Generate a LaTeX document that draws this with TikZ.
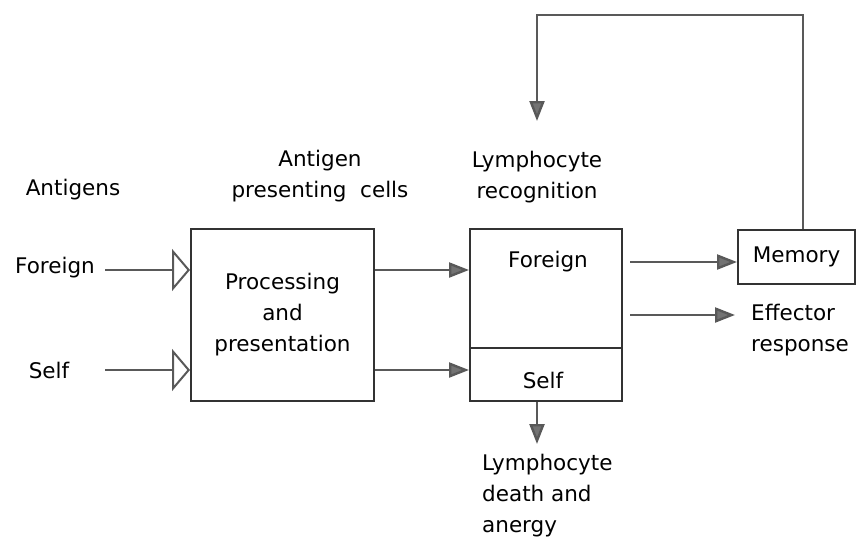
\documentclass[tikz,border=0pt]{standalone}
\usepackage{fontspec}
\setmainfont{DejaVu Sans}
\usetikzlibrary{arrows.meta, positioning}
\tikzset{
    stage/.style={rectangle, draw=black!80, line width=2pt, inner sep=0pt},
    lbl/.style={font=\fontsize{21.5}{31}\selectfont, align=center, inner sep=1pt},
    flow/.style={draw=black!65, line width=2.4pt, -{Triangle[length=20pt, width=15pt, fill=black!55]}},
    input/.style={draw=black!65, line width=2.4pt, -{Triangle[open, length=18pt, width=42pt, line width=2pt]}}
}
\begin{document}
\begin{tikzpicture}[x=1pt, y=-1pt]
    \useasboundingbox (0,0) rectangle (857,538);
    % Stage boxes
    \node[stage, minimum width=183pt, minimum height=172pt, lbl] (apc) at (282.5,315) {Processing\\and\\presentation};
    \node[stage, minimum width=152pt, minimum height=172pt] (lymph) at (546,315) {};
    \node[stage, minimum width=117pt, minimum height=54pt, lbl] (memory) at (796.5,256.5) {Memory};
    \draw[stage] (lymph.west |- 0,348) -- (lymph.east |- 0,348);

    % Labels
    \node[lbl] (antigens) at (73,190) {Antigens};
    \node[lbl] (forlab) at (55,268) {Foreign};
    \node[lbl] (selflab) at (49,370) {Self};
    \node[lbl] (apclab) at (320,176) {Antigen\\presenting\ \ cells};
    \node[lbl] (reclab) at (537,177) {Lymphocyte\\recognition};
    \node[lbl] (lforeign) at (548,262) {Foreign};
    \node[lbl] (lself) at (543,380) {Self};
    \node[lbl, align=left, anchor=west] (effector) at (750,330) {Effector\\response};
    \node[lbl, align=left, anchor=north west] (death) at (481,453) {Lymphocyte\\death and\\anergy};

    % Inputs
    \coordinate (forstart) at (105,270);
    \coordinate (selfstart) at (105,370);
    \draw[input] (forstart) -- (apc.west |- forstart);
    \draw[input] (selfstart) -- (apc.west |- selfstart);

    % Flows
    \coordinate (memstart) at (630,262);
    \coordinate (effstart) at (630,315);
    \draw[flow] (apc.east |- forstart) -- (lymph.west |- forstart);
    \draw[flow] (apc.east |- selfstart) -- (lymph.west |- selfstart);
    \draw[flow] (memstart) -- (memory.west |- memstart);
    \draw[flow, shorten >=15pt] (effstart) -- (effstart -| effector.west);
    \draw[flow] (lymph.south -| 537,0) -- (537,444);

    % Feedback from memory
    \coordinate (fbtop) at (803,15);
    \coordinate (fbleft) at (537,15);
    \coordinate (fbend) at (537,121);
    \draw[flow] (memory.north -| fbtop) -- (fbtop) -- (fbleft) -- (fbend);
\end{tikzpicture}
\end{document}
